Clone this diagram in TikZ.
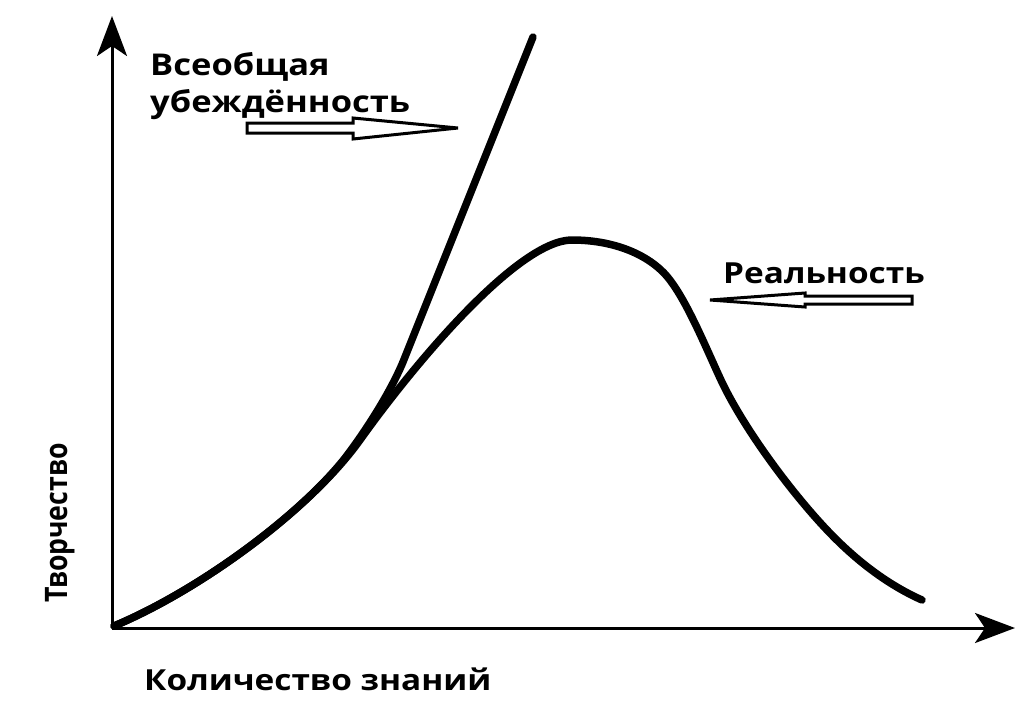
\documentclass[tikz,border=0pt]{standalone}
\usepackage{fontspec}
\setmainfont{Open Sans}
\newfontfamily\widefont{Open Sans}[FakeStretch=1.15]
\newfontfamily\narrowfont{Open Sans}[FakeStretch=0.86]
\usetikzlibrary{arrows.meta}
\begin{document}
\begin{tikzpicture}[x=1pt,y=-1pt,
  lbl/.style={font=\widefont\fontsize{29}{31}\selectfont\bfseries, inner sep=0pt, anchor=base west},
  biglbl/.style={lbl, font=\widefont\fontsize{30}{32}\selectfont\bfseries},
  vlbl/.style={font=\narrowfont\fontsize{31}{33}\selectfont\bfseries, inner sep=0pt, anchor=base west, rotate=90},
  axis/.style={line width=3pt, -{Stealth[length=40pt,width=30pt,inset=10pt]}},
  curve/.style={line width=7.5pt, line cap=round, line join=round},
  hollow/.style={draw=black, fill=white, line width=3pt, line join=miter}]
\useasboundingbox (0,0) rectangle (1029,724);
\coordinate (O) at (112,628);
\coordinate (ytop) at (112,16);
\coordinate (xend) at (1015,628);
\draw[axis] (O) -- (ytop);
\draw[axis] (O) -- (xend);
% reality curve
\coordinate (r0) at (114,626);
\coordinate (r1) at (360,440);
\coordinate (peak) at (572,240);
\coordinate (r3) at (663,272);
\coordinate (r4) at (720,378);
\coordinate (r5) at (827,530);
\coordinate (rend) at (922,600);
\draw[curve] (r0) .. controls (200,590) and (310,510) .. (r1)
  .. controls (420,356) and (520,240) .. (peak)
  .. controls (610,240) and (643,252) .. (r3)
  .. controls (683,292) and (703,341) .. (r4)
  .. controls (742,426) and (790,491) .. (r5)
  .. controls (862,567) and (895,588) .. (rend);
% belief curve
\coordinate (b1) at (345,458);
\coordinate (b2) at (403,362);
\coordinate (btop) at (533,37);
\draw[curve] (r0) .. controls (200,590) and (300,515) .. (b1)
  .. controls (365,432) and (390,393) .. (b2) -- (btop);
% labels
\node[biglbl] (conv1) at (150,75) {Всеобщая};
\node[biglbl] (conv2) at (150,112) {убеждённость};
\node[lbl] (real) at (723,283) {Реальность};
\node[lbl] (xlab) at (144,690) {Количество знаний};
\node[vlbl] (ylab) at (67,603) {Творчество};
% hollow arrows
\draw[hollow] (247,123) -- (353,123) -- (353,118) -- (458,128) -- (353,139) -- (353,133) -- (247,133) -- cycle;
\draw[hollow] (912,296) -- (805,296) -- (805,293) -- (710,300) -- (805,307) -- (805,304) -- (912,304) -- cycle;
\end{tikzpicture}
\end{document}
